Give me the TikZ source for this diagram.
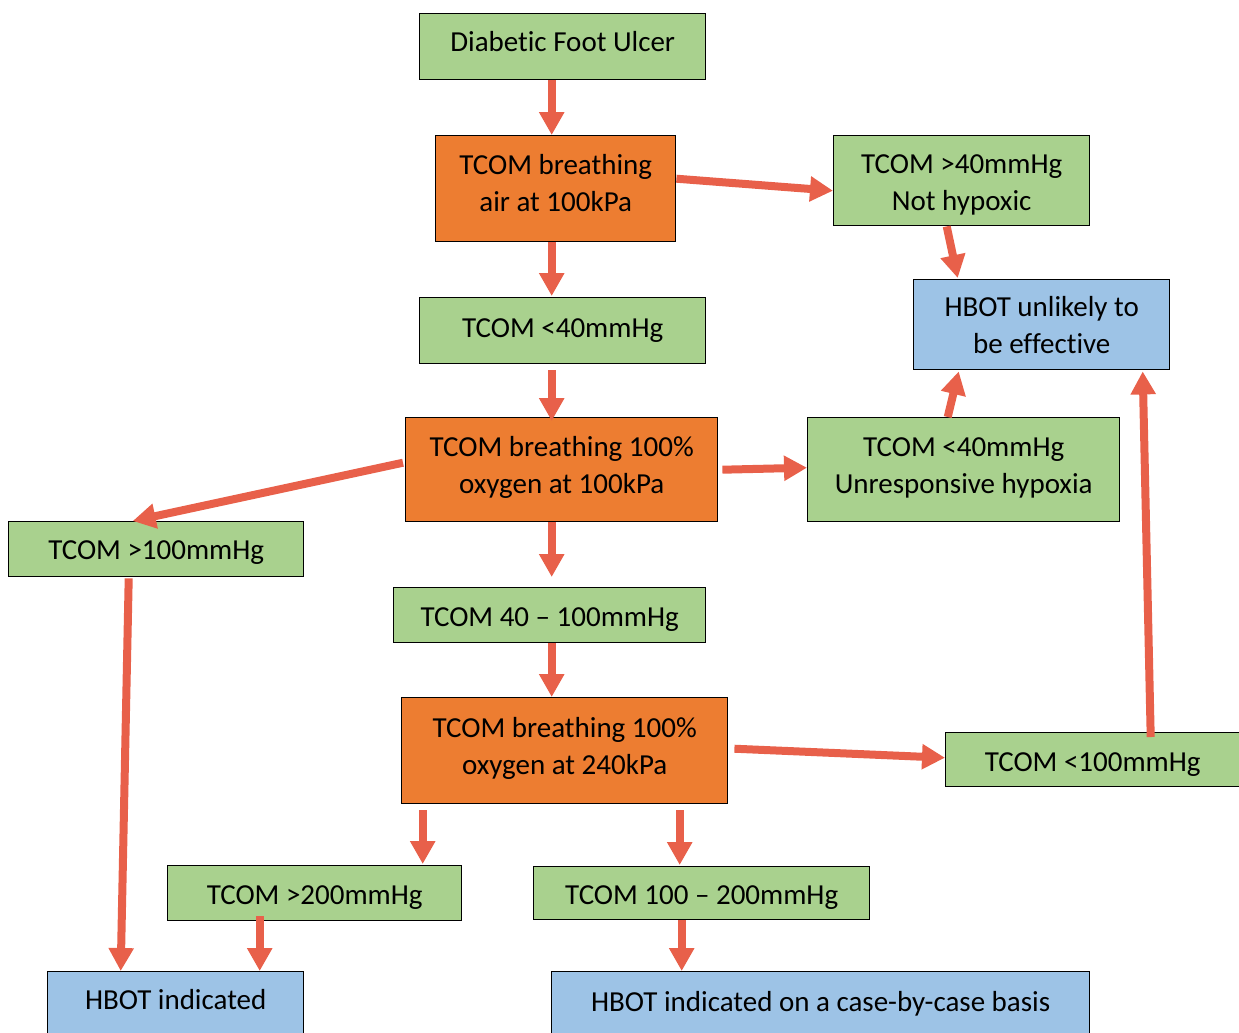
\documentclass[tikz,border=0pt]{standalone}
\usepackage{fontspec}
\setmainfont{Carlito}[Ligatures=NoCommon]
\usetikzlibrary{arrows.meta}
\definecolor{boxgreen}{HTML}{A9D18E}
\definecolor{boxorange}{HTML}{ED7D31}
\definecolor{boxblue}{HTML}{9DC3E6}
\definecolor{arrowred}{HTML}{E8604A}
\newcommand{\tx}[2]{\raisebox{#1\dimexpr 0.567pt\relax}[\height][\depth]{\begin{tabular}{@{}c@{}}#2\end{tabular}}}
\begin{document}
\begin{tikzpicture}[x=0.02cm,y=-0.02cm,
  box/.style={draw=black, line width=0.8pt, inner sep=0pt, align=center, anchor=north west,
    font=\fontsize{16.5}{21}\selectfont},
  gbox/.style={box, fill=boxgreen},
  obox/.style={box, fill=boxorange},
  bbox/.style={box, fill=boxblue},
  sz/.style 2 args={minimum width=#1*0.02cm, minimum height=#2*0.02cm},
  conn/.style={draw=arrowred, line width=0.16cm, -{Triangle[length=0.46cm,width=0.48cm]}}]
\useasboundingbox (0,0) rectangle (1239,1032);
\clip (0,0) rectangle (1239,1032);

\node[gbox, sz={286}{66}] (dfu) at (419,13) {\tx{3}{Diabetic Foot Ulcer}};
\node[obox, sz={240}{106}] (air) at (435,135) {\tx{3}{TCOM breathing\\air at 100kPa}};
\node[gbox, sz={256}{90}] (nothyp) at (833,135) {\tx{-4}{TCOM >40mmHg\\Not hypoxic}};
\node[bbox, sz={256}{90}] (unlikely) at (913,279) {\tx{-3}{HBOT unlikely to\\be effective}};
\node[gbox, sz={286}{66}] (lt40) at (419,297) {\tx{1}{TCOM <40mmHg}};
\node[obox, sz={312}{104}] (oxy1) at (405,417) {\tx{2.5}{TCOM breathing 100\%\\oxygen at 100kPa}};
\node[gbox, sz={312}{104}] (unresp) at (807,417) {\tx{2.5}{TCOM <40mmHg\\Unresponsive hypoxia}};
\node[gbox, sz={295}{55}] (gt100) at (8,521) {\tx{-3}{TCOM >100mmHg}};
\node[gbox, sz={312}{55}] (mid) at (393,587) {\tx{-4}{TCOM 40 – 100mmHg}};
\node[obox, sz={326}{106}] (oxy2) at (401,697) {\tx{2.5}{TCOM breathing 100\%\\oxygen at 240kPa}};
\node[gbox, sz={294}{54}] (lt100) at (945,732) {\tx{-4}{TCOM <100mmHg}};
\node[gbox, sz={294}{55}] (gt200) at (167,865) {\tx{-4}{TCOM >200mmHg}};
\node[gbox, sz={336}{53}] (r100) at (533,866) {\tx{-4}{TCOM 100 – 200mmHg}};
\node[bbox, sz={256}{64}] (ind) at (47,971) {\tx{2}{HBOT indicated}};
\node[bbox, sz={538}{64}] (case) at (551,971) {\tx{0}{HBOT indicated on a case-by-case basis}};

\draw[conn] ([shift={(-11,0)}]dfu.south) -- ([shift={(-4,0)}]air.north);
\draw[conn] ([shift={(0,-10)}]air.east) -- ([shift={(0,10)}]nothyp.west);
\draw[conn] ([shift={(-4,0)}]air.south) -- ([shift={(-11,-1)}]lt40.north);
\draw[conn] ([shift={(-15,0)}]nothyp.south) -- ([shift={(-84,-1)}]unlikely.north);
\draw[conn] ([shift={(-11,6)}]lt40.south) -- ([shift={(-10,4)}]oxy1.north);
\draw[conn] ([shift={(-2,-7)}]oxy1.west) -- ([shift={(-23.5,0)}]gt100.north);
\draw[conn] ([shift={(4,0)}]oxy1.east) -- ([shift={(0,-2)}]unresp.west);
\draw[conn] ([shift={(-10,0)}]oxy1.south) -- ([shift={(2,-10)}]mid.north);
\draw[conn] ([shift={(-16,0)}]unresp.north) -- ([shift={(-83,1)}]unlikely.south);
\draw[conn] ([shift={(2,0)}]mid.south) -- ([shift={(-13,0)}]oxy2.north);
\draw[conn] ([shift={(6,-2)}]oxy2.east) -- ([shift={(0,-2)}]lt100.west);
\draw[conn] ([shift={(58,5)}]lt100.north) -- ([shift={(101,1)}]unlikely.south);
\draw[conn] ([shift={(-27.5,1)}]gt100.south) -- ([shift={(-55,0)}]ind.north);
\draw[conn] ([shift={(-142,6)}]oxy2.south) -- ([shift={(108,-1)}]gt200.north);
\draw[conn] ([shift={(115,6)}]oxy2.south) -- ([shift={(-22,-1)}]r100.north);
\draw[conn] ([shift={(-55,-5)}]gt200.south) -- ([shift={(84,0)}]ind.north);
\draw[conn] ([shift={(-20,0)}]r100.south) -- ([shift={(-139,0)}]case.north);
\end{tikzpicture}
\end{document}
